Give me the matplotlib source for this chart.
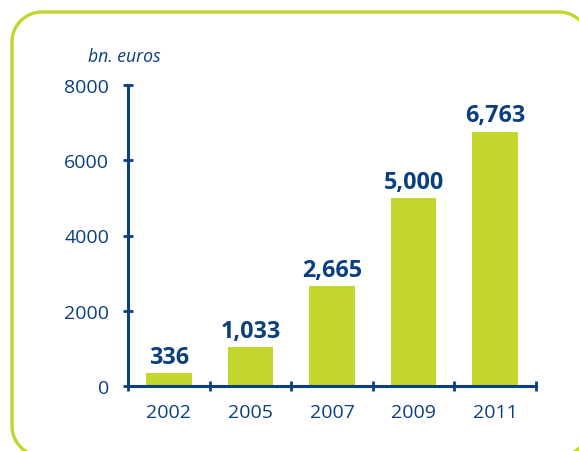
import numpy as np
import matplotlib.pyplot as plt
from matplotlib.patches import Polygon

years = ['2002', '2005', '2007', '2009', '2011']
values = [336, 1033, 2665, 5000, 6763]
value_labels = ['336', '1,033', '2,665', '5,000', '6,763']

navy = '#0b3f7e'
green = '#c3d62e'

plt.rcParams['font.family'] = ['Open Sans', 'DejaVu Sans']

W, H = 579, 452
fig = plt.figure(figsize=(W / 100, H / 100), dpi=100)

# rounded frame in pixels (top-left origin), running off right and bottom
left, top, right, bottom, r = 12, 13, 589, 457, 30
t = np.linspace(0, np.pi / 2, 20)
fx = np.concatenate([left + r - r * np.cos(t), right - r + r * np.sin(t),
                     right - r + r * np.cos(t), left + r - r * np.sin(t)])
fy = np.concatenate([top + r - r * np.sin(t), top + r - r * np.cos(t),
                     bottom - r + r * np.sin(t), bottom - r + r * np.cos(t)])
frame = Polygon(np.column_stack([fx / W, 1 - fy / H]), closed=True, fill=False,
                edgecolor=green, linewidth=2.4, transform=fig.transFigure)
fig.patches.append(frame)

ax = fig.add_axes([128 / W, 1 - 387 / H, 408 / W, 301 / H])
x = range(len(years))
ax.bar(x, values, width=0.56, color=green)

for i, v in enumerate(values):
    ax.annotate(value_labels[i], (i, v), xytext=(0, 3), textcoords='offset points',
                ha='center', va='bottom', fontsize=16.8, fontweight='bold', color=navy)

ax.set_xlim(-0.5, 4.5)
ax.set_ylim(0, 8000)
ax.set_yticks([0, 2000, 4000, 6000, 8000])
ax.set_xticks([-0.5, 0.5, 1.5, 2.5, 3.5, 4.5])
ax.set_xticklabels([])
ax.set_xticks(list(x), minor=True)
ax.set_xticklabels(years, minor=True)

for s in ['top', 'right']:
    ax.spines[s].set_visible(False)
for s in ['left', 'bottom']:
    ax.spines[s].set_color(navy)
    ax.spines[s].set_linewidth(2.2)

ax.tick_params(axis='y', direction='inout', length=7, width=2, color=navy,
               labelcolor=navy, labelsize=14, pad=10)
ax.tick_params(axis='x', which='major', direction='inout', length=7, width=2, color=navy)
ax.tick_params(axis='x', which='minor', length=0, labelcolor=navy, labelsize=14, pad=12)

fig.text(88 / W, 1 - 57 / H, 'bn. euros', fontsize=12.7, style='italic',
         color=navy, ha='left', va='center')

fig.savefig('out.png', dpi=100)
